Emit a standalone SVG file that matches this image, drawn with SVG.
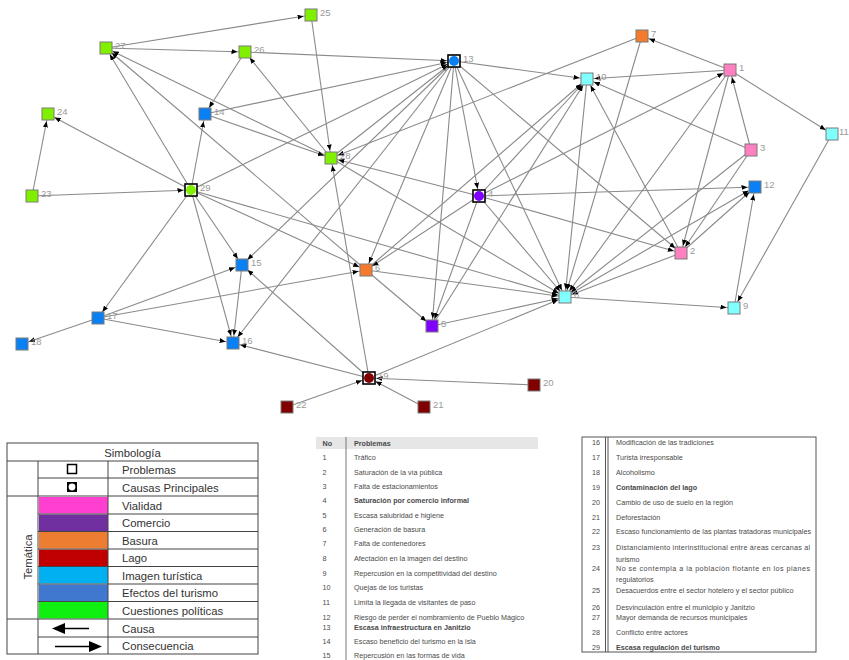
<svg xmlns="http://www.w3.org/2000/svg" width="849" height="660" viewBox="0 0 849 660">
<style>
.e line{stroke:#8a8a8a;stroke-width:1.1;marker-end:url(#ah)}
.n{stroke:#7a7a7a;stroke-width:1}
.m{stroke:#000;stroke-width:1.6;fill:#fff}
.lb{font-family:"Liberation Sans",Arial,sans-serif;font-size:9.5px;fill:#9a9a9a}
.lg{font-family:"Liberation Sans",Arial,sans-serif;font-size:11.3px;fill:#333}
.tb{font-family:"Liberation Sans",Arial,sans-serif;font-size:7.2px;fill:#4a4a4a}
.b{font-weight:bold}
.pk{fill:#ff80c0}.pu{fill:#8000ff}.or{fill:#f57a2c}.cy{fill:#80ffff}.bl{fill:#0a80f5}.dr{fill:#800000}.gr{fill:#80f000}
.tl{stroke:#444;stroke-width:1;fill:none}
</style>
<defs>
<marker id="ah" markerUnits="userSpaceOnUse" markerWidth="6" markerHeight="5" refX="13.5" refY="2.5" orient="auto"><path d="M0,0 L6,2.5 L0,5 z" fill="#000"/></marker>
</defs>
<rect width="849" height="660" fill="#fff"/>
<g id="connectors" class="e">
<line x1="106" y1="48" x2="311" y2="15"/>
<line x1="106" y1="48" x2="245" y2="52"/>
<line x1="311" y1="15" x2="331" y2="158"/>
<line x1="245" y1="52" x2="454" y2="61"/>
<line x1="245" y1="52" x2="205" y2="114"/>
<line x1="331" y1="158" x2="245" y2="52"/>
<line x1="205" y1="114" x2="454" y2="61"/>
<line x1="191" y1="190" x2="205" y2="114"/>
<line x1="191" y1="190" x2="106" y2="48"/>
<line x1="331" y1="158" x2="106" y2="48"/>
<line x1="366" y1="270" x2="106" y2="48"/>
<line x1="205" y1="114" x2="331" y2="158"/>
<line x1="32" y1="196" x2="191" y2="190"/>
<line x1="32" y1="196" x2="48" y2="114"/>
<line x1="191" y1="190" x2="48" y2="114"/>
<line x1="191" y1="190" x2="454" y2="61"/>
<line x1="191" y1="190" x2="98" y2="318"/>
<line x1="191" y1="190" x2="233" y2="343"/>
<line x1="191" y1="190" x2="242" y2="265"/>
<line x1="191" y1="190" x2="366" y2="270"/>
<line x1="191" y1="190" x2="565" y2="297"/>
<line x1="331" y1="158" x2="454" y2="61"/>
<line x1="642" y1="36" x2="331" y2="158"/>
<line x1="642" y1="36" x2="565" y2="297"/>
<line x1="730" y1="70" x2="642" y2="36"/>
<line x1="730" y1="70" x2="587" y2="79"/>
<line x1="730" y1="70" x2="832" y2="134"/>
<line x1="751" y1="150" x2="730" y2="70"/>
<line x1="751" y1="150" x2="587" y2="79"/>
<line x1="751" y1="150" x2="681" y2="253"/>
<line x1="751" y1="150" x2="565" y2="297"/>
<line x1="730" y1="70" x2="681" y2="253"/>
<line x1="730" y1="70" x2="565" y2="297"/>
<line x1="479" y1="196" x2="730" y2="70"/>
<line x1="454" y1="61" x2="587" y2="79"/>
<line x1="454" y1="61" x2="479" y2="196"/>
<line x1="454" y1="61" x2="432" y2="326"/>
<line x1="454" y1="61" x2="565" y2="297"/>
<line x1="454" y1="61" x2="681" y2="253"/>
<line x1="454" y1="61" x2="366" y2="270"/>
<line x1="454" y1="61" x2="242" y2="265"/>
<line x1="454" y1="61" x2="233" y2="343"/>
<line x1="479" y1="196" x2="331" y2="158"/>
<line x1="479" y1="196" x2="755" y2="187"/>
<line x1="479" y1="196" x2="565" y2="297"/>
<line x1="479" y1="196" x2="432" y2="326"/>
<line x1="479" y1="196" x2="681" y2="253"/>
<line x1="479" y1="196" x2="366" y2="270"/>
<line x1="479" y1="196" x2="587" y2="79"/>
<line x1="432" y1="326" x2="587" y2="79"/>
<line x1="366" y1="270" x2="587" y2="79"/>
<line x1="587" y1="79" x2="565" y2="297"/>
<line x1="681" y1="253" x2="587" y2="79"/>
<line x1="681" y1="253" x2="565" y2="297"/>
<line x1="681" y1="253" x2="755" y2="187"/>
<line x1="565" y1="297" x2="755" y2="187"/>
<line x1="565" y1="297" x2="734" y2="308"/>
<line x1="734" y1="308" x2="755" y2="187"/>
<line x1="832" y1="134" x2="734" y2="308"/>
<line x1="432" y1="326" x2="565" y2="297"/>
<line x1="366" y1="270" x2="432" y2="326"/>
<line x1="366" y1="270" x2="565" y2="297"/>
<line x1="98" y1="318" x2="366" y2="270"/>
<line x1="98" y1="318" x2="242" y2="265"/>
<line x1="98" y1="318" x2="233" y2="343"/>
<line x1="98" y1="318" x2="22" y2="344"/>
<line x1="242" y1="265" x2="233" y2="343"/>
<line x1="369" y1="378" x2="233" y2="343"/>
<line x1="369" y1="378" x2="242" y2="265"/>
<line x1="369" y1="378" x2="331" y2="158"/>
<line x1="369" y1="378" x2="565" y2="297"/>
<line x1="287" y1="407" x2="369" y2="378"/>
<line x1="424" y1="407" x2="369" y2="378"/>
<line x1="534" y1="385" x2="369" y2="378"/>
<line x1="331" y1="158" x2="565" y2="297"/>
</g>
<g id="nodes">
<g id="n1"><rect class="n pk" x="724" y="64" width="12" height="12"/><text class="lb" x="739" y="71">1</text></g>
<g id="n2"><rect class="n pk" x="675" y="247" width="12" height="12"/><text class="lb" x="690" y="254">2</text></g>
<g id="n3"><rect class="n pk" x="745" y="144" width="12" height="12"/><text class="lb" x="760" y="151">3</text></g>
<g id="n4"><rect class="m" x="473" y="190" width="12" height="12"/><circle class="pu" cx="479" cy="196" r="5"/><text class="lb" x="488" y="197">4</text></g>
<g id="n5"><rect class="n pu" x="426" y="320" width="12" height="12"/><text class="lb" x="441" y="327">5</text></g>
<g id="n6"><rect class="n or" x="360" y="264" width="12" height="12"/><text class="lb" x="375" y="271">6</text></g>
<g id="n7"><rect class="n or" x="636" y="30" width="12" height="12"/><text class="lb" x="651" y="37">7</text></g>
<g id="n8"><rect class="n cy" x="559" y="291" width="12" height="12"/><text class="lb" x="574" y="298">8</text></g>
<g id="n9"><rect class="n cy" x="728" y="302" width="12" height="12"/><text class="lb" x="743" y="309">9</text></g>
<g id="n10"><rect class="n cy" x="581" y="73" width="12" height="12"/><text class="lb" x="596" y="80">10</text></g>
<g id="n11"><rect class="n cy" x="826" y="128" width="12" height="12"/><text class="lb" x="839" y="135" font-size="9">11</text></g>
<g id="n12"><rect class="n bl" x="749" y="181" width="12" height="12"/><text class="lb" x="764" y="188">12</text></g>
<g id="n13"><rect class="m" x="448" y="55" width="12" height="12"/><circle class="bl" cx="454" cy="61" r="5"/><text class="lb" x="463" y="62">13</text></g>
<g id="n14"><rect class="n bl" x="199" y="108" width="12" height="12"/><text class="lb" x="214" y="115">14</text></g>
<g id="n15"><rect class="n bl" x="236" y="259" width="12" height="12"/><text class="lb" x="251" y="266">15</text></g>
<g id="n16"><rect class="n bl" x="227" y="337" width="12" height="12"/><text class="lb" x="242" y="344">16</text></g>
<g id="n17"><rect class="n bl" x="92" y="312" width="12" height="12"/><text class="lb" x="107" y="319">17</text></g>
<g id="n18"><rect class="n bl" x="16" y="338" width="12" height="12"/><text class="lb" x="31" y="345">18</text></g>
<g id="n19"><rect class="m" x="363" y="372" width="12" height="12"/><circle class="dr" cx="369" cy="378" r="5"/><text class="lb" x="378" y="379">19</text></g>
<g id="n20"><rect class="n dr" x="528" y="379" width="12" height="12"/><text class="lb" x="543" y="386">20</text></g>
<g id="n21"><rect class="n dr" x="418" y="401" width="12" height="12"/><text class="lb" x="433" y="408">21</text></g>
<g id="n22"><rect class="n dr" x="281" y="401" width="12" height="12"/><text class="lb" x="296" y="408">22</text></g>
<g id="n23"><rect class="n gr" x="26" y="190" width="12" height="12"/><text class="lb" x="41" y="197">23</text></g>
<g id="n24"><rect class="n gr" x="42" y="108" width="12" height="12"/><text class="lb" x="57" y="115">24</text></g>
<g id="n25"><rect class="n gr" x="305" y="9" width="12" height="12"/><text class="lb" x="320" y="16">25</text></g>
<g id="n26"><rect class="n gr" x="239" y="46" width="12" height="12"/><text class="lb" x="254" y="53">26</text></g>
<g id="n27"><rect class="n gr" x="100" y="42" width="12" height="12"/><text class="lb" x="115" y="49">27</text></g>
<g id="n28"><rect class="n gr" x="325" y="152" width="12" height="12"/><text class="lb" x="340" y="159">28</text></g>
<g id="n29"><rect class="m" x="185" y="184" width="12" height="12"/><circle class="gr" cx="191" cy="190" r="5"/><text class="lb" x="200" y="191">29</text></g>
</g>
<g id="legend">
<rect x="39" y="497" width="69" height="16.5" fill="#ff3fcf"/>
<rect x="39" y="514.5" width="69" height="16.5" fill="#7030a0"/>
<rect x="39" y="532" width="69" height="16.5" fill="#ed7d31"/>
<rect x="39" y="549.5" width="69" height="16.5" fill="#c00000"/>
<rect x="39" y="567" width="69" height="16.5" fill="#00b0f0"/>
<rect x="39" y="584.5" width="69" height="16.5" fill="#4078d0"/>
<rect x="39" y="602" width="69" height="16.5" fill="#10f010"/>
<rect class="tl" x="7" y="443" width="251" height="211" stroke-width="1.5"/>
<path class="tl" d="M7,461H258M38,478H258M7,496H258M38,514H258M38,531.5H258M38,549H258M38,566.5H258M38,584H258M38,601.5H258M7,619H258M38,637H258M38,461V654M108,461V654"/>
<text class="lg" x="132.5" y="457" text-anchor="middle">Simbología</text>
<text class="lg" x="122" y="474">Problemas</text>
<text class="lg" x="122" y="492">Causas Principales</text>
<text class="lg" x="122" y="509.5">Vialidad</text>
<text class="lg" x="122" y="527">Comercio</text>
<text class="lg" x="122" y="544.5">Basura</text>
<text class="lg" x="122" y="562">Lago</text>
<text class="lg" x="122" y="579.5">Imagen turística</text>
<text class="lg" x="122" y="597">Efectos del turismo</text>
<text class="lg" x="122" y="614.5">Cuestiones políticas</text>
<text class="lg" x="122" y="632.5">Causa</text>
<text class="lg" x="122" y="650">Consecuencia</text>
<text class="lg" transform="translate(32,557) rotate(-90)" text-anchor="middle">Temática</text>
<rect x="67.5" y="464.5" width="9" height="9" fill="#fff" stroke="#000" stroke-width="1.5"/>
<rect x="67" y="482" width="10" height="10" fill="#000"/>
<circle cx="72" cy="487" r="3.4" fill="#fff"/>
<line x1="63" y1="628.5" x2="89" y2="628.5" stroke="#000" stroke-width="1.5"/>
<polygon points="52,628.5 65,623 65,634" fill="#000"/>
<line x1="55" y1="646.5" x2="91" y2="646.5" stroke="#000" stroke-width="1.5"/>
<polygon points="102,646.5 89,641 89,652" fill="#000"/>
</g>
<g id="table1">
<rect x="316" y="437" width="222" height="12" fill="#e6e6e6"/>
<line x1="346" y1="437" x2="346" y2="660" stroke="#777" stroke-width="1"/>
<text class="tb b" x="322.5" y="446">No</text><text class="tb b" x="354" y="446">Problemas</text>
<text class="tb" x="322.5" y="459.5">1</text><text class="tb" x="354" y="459.5">Tráfico</text>
<text class="tb" x="322.5" y="474.5">2</text><text class="tb" x="354" y="474.5">Saturación de la vía pública</text>
<text class="tb" x="322.5" y="488.5">3</text><text class="tb" x="354" y="488.5">Falta de estacionamientos</text>
<text class="tb" x="322.5" y="502.5">4</text><text class="tb b" x="354" y="502.5">Saturación por comercio informal</text>
<text class="tb" x="322.5" y="517.5">5</text><text class="tb" x="354" y="517.5">Escasa salubridad e higiene</text>
<text class="tb" x="322.5" y="531.5">6</text><text class="tb" x="354" y="531.5">Generación de basura</text>
<text class="tb" x="322.5" y="545.5">7</text><text class="tb" x="354" y="545.5">Falta de contenedores</text>
<text class="tb" x="322.5" y="560.5">8</text><text class="tb" x="354" y="560.5">Afectación en la imagen del destino</text>
<text class="tb" x="322.5" y="575.5">9</text><text class="tb" x="354" y="575.5">Repercusión en la competitividad del destino</text>
<text class="tb" x="322.5" y="589.5">10</text><text class="tb" x="354" y="589.5">Quejas de los turistas</text>
<text class="tb" x="322.5" y="604.5">11</text><text class="tb" x="354" y="604.5">Limita la llegada de visitantes de paso</text>
<text class="tb" x="322.5" y="619.5">12</text><text class="tb" x="354" y="619.5">Riesgo de perder el nombramiento de Pueblo Mágico</text>
<text class="tb" x="322.5" y="629.5">13</text><text class="tb b" x="354" y="629.5">Escasa infraestructura en Janitzio</text>
<text class="tb" x="322.5" y="643.5">14</text><text class="tb" x="354" y="643.5">Escaso beneficio del turismo en la isla</text>
<text class="tb" x="322.5" y="657.5">15</text><text class="tb" x="354" y="657.5">Repercusión en las formas de vida</text>
</g>
<g id="table2">
<rect x="582" y="437" width="234" height="215" fill="none" stroke="#555" stroke-width="1"/>
<path d="M605.5,437V652M608,437V652" stroke="#555" stroke-width="1" fill="none"/>
<text class="tb" x="592" y="444.5">16</text><text class="tb" x="616" y="444.5">Modificación de las tradiciones</text>
<text class="tb" x="592" y="459.5">17</text><text class="tb" x="616" y="459.5">Turista irresponsable</text>
<text class="tb" x="592" y="474.5">18</text><text class="tb" x="616" y="474.5">Alcoholismo</text>
<text class="tb" x="592" y="489.5">19</text><text class="tb b" x="616" y="489.5">Contaminación del lago</text>
<text class="tb" x="592" y="504.5">20</text><text class="tb" x="616" y="504.5">Cambio de uso de suelo en la región</text>
<text class="tb" x="592" y="519.5">21</text><text class="tb" x="616" y="519.5">Deforestación</text>
<text class="tb" x="592" y="533.5">22</text><text class="tb" x="616" y="533.5">Escaso funcionamiento de las plantas tratadoras municipales</text>
<text class="tb" x="592" y="549.5">23</text><text class="tb" x="616" y="549.5" textLength="194" lengthAdjust="spacing">Distanciamiento interinstitucional entre áreas cercanas al</text>
<text class="tb" x="616" y="561.5">turismo</text>
<text class="tb" x="592" y="570.5">24</text><text class="tb" x="616" y="570.5" textLength="194" lengthAdjust="spacing">No se contempla a la población flotante en los planes</text>
<text class="tb" x="616" y="581.5">regulatorios</text>
<text class="tb" x="592" y="592.5">25</text><text class="tb" x="616" y="592.5">Desacuerdos entre el sector hotelero y el sector público</text>
<text class="tb" x="592" y="609.5">26</text><text class="tb" x="616" y="609.5">Desvinculación entre el municipio y Janitzio</text>
<text class="tb" x="592" y="619.5">27</text><text class="tb" x="616" y="619.5">Mayor demanda de recursos municipales</text>
<text class="tb" x="592" y="634.5">28</text><text class="tb" x="616" y="634.5">Conflicto entre actores</text>
<text class="tb" x="592" y="649.5">29</text><text class="tb b" x="616" y="649.5">Escasa regulación del turismo</text>
</g>
</svg>
